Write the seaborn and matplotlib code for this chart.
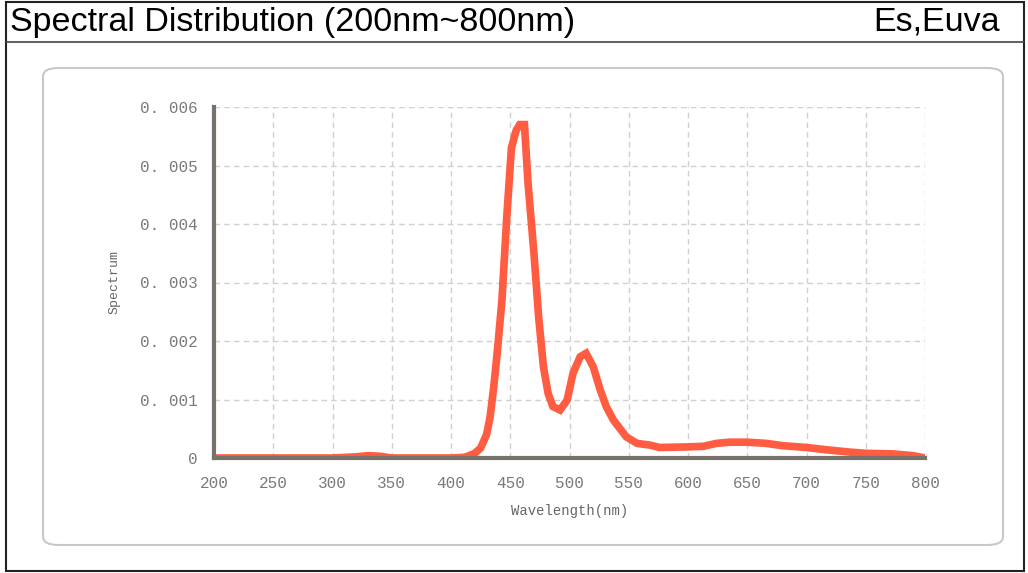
import numpy as np
import pandas as pd
import matplotlib
matplotlib.use("Agg")
import matplotlib.pyplot as plt
import seaborn as sns
from matplotlib.patches import FancyBboxPatch, Rectangle
from matplotlib.lines import Line2D
from matplotlib.ticker import MultipleLocator

# ---- data ----
wavelength = [200, 250, 300, 320, 330, 340, 350, 380, 400, 410, 413, 420, 425, 430, 433,
              436, 439, 443, 447, 451, 455, 458, 462, 465, 470, 474, 478, 482, 486,
              492, 498, 503, 509, 514, 520, 526, 531, 537, 548, 557, 568, 576, 600,
              613, 624, 635, 650, 666, 680, 700, 717, 737, 750, 773, 790, 800]
spectrum = [0.0, 0.0, 0.0, 0.00002, 0.00004, 0.00003, 0.0, 0.0, 0.0, 0.00001, 0.00002,
            0.00008, 0.00017, 0.0004, 0.0007, 0.0012, 0.0018, 0.0027, 0.0041, 0.0053,
            0.0056, 0.0057, 0.0057, 0.0047, 0.0035, 0.0024, 0.00156, 0.0011, 0.00088,
            0.00082, 0.00099, 0.00145, 0.00173, 0.00179, 0.00156, 0.00116, 0.00088,
            0.00065, 0.00036, 0.00025, 0.00022, 0.00018, 0.00019, 0.0002, 0.00025,
            0.00027, 0.00027, 0.00025, 0.00021, 0.00018, 0.00014, 0.0001, 0.00008,
            0.00007, 0.00004, 0.0]
x_ticks = [200, 250, 300, 350, 400, 450, 500, 550, 600, 650, 700, 750, 800]
y_ticks = [0, 0.001, 0.002, 0.003, 0.004, 0.005, 0.006]
y_tick_labels = ["0", "0. 001", "0. 002", "0. 003", "0. 004", "0. 005", "0. 006"]
title_left = "Spectral Distribution (200nm~800nm)"
title_right = "Es,Euva"
x_label = "Wavelength(nm)"
y_label = "Spectrum"

df = pd.DataFrame({"Wavelength": wavelength, "Spectrum": spectrum})

sns.set_style("white")
plt.rcParams["font.family"] = ["Liberation Sans", "DejaVu Sans"]

W, H = 1028, 573
fig = plt.figure(figsize=(W / 100, H / 100), dpi=100)

# outer frame and title separator
fig.patches.append(Rectangle((6 / W, 1 - 571 / H), 1018 / W, 569 / H, transform=fig.transFigure,
                             fill=False, edgecolor="#222222", linewidth=1.5))
fig.lines.append(Line2D([6 / W, 1024 / W], [1 - 42 / H, 1 - 42 / H], transform=fig.transFigure,
                        color="#444444", linewidth=1.2))
fig.text(10 / W, 1 - 22 / H, title_left, fontsize=24.5, va="center", ha="left", color="black")
fig.text(1000 / W, 1 - 22 / H, title_right, fontsize=24.5, va="center", ha="right", color="black")

# rounded panel
fig.patches.append(FancyBboxPatch((43 / W, 1 - 545 / H), 960 / W, 477 / H,
                                  boxstyle="round,pad=0,rounding_size=0.015",
                                  transform=fig.transFigure, fill=False,
                                  edgecolor="#c8c8c8", linewidth=1.5))

ax = fig.add_axes([214 / W, 1 - 458 / H, (925 - 214) / W, (458 - 107) / H])
sns.lineplot(data=df, x="Wavelength", y="Spectrum", ax=ax, color="#ff5c42",
             linewidth=5.5, solid_joinstyle="miter")

ax.set_xlim(200, 800)
ax.set_ylim(0, 0.006)
ax.set_xticks(x_ticks)
ax.set_xticklabels([str(v) for v in x_ticks])
ax.set_yticks(y_ticks)
ax.set_yticklabels(y_tick_labels)
ax.xaxis.set_minor_locator(MultipleLocator(25))
ax.yaxis.set_minor_locator(MultipleLocator(0.0005))

spine_c = "#77736a"
for s in ["top", "right"]:
    ax.spines[s].set_visible(False)
for s in ["left", "bottom"]:
    ax.spines[s].set_color(spine_c)
    ax.spines[s].set_linewidth(3)

ax.tick_params(axis="both", which="major", direction="out", length=10, width=2,
               color=spine_c, labelcolor="#7a7a7a")
ax.tick_params(axis="both", which="minor", direction="out", length=6, width=2, color=spine_c)
for lbl in ax.get_xticklabels() + ax.get_yticklabels():
    lbl.set_family(["Liberation Mono", "DejaVu Sans Mono"])
    lbl.set_fontsize(11.5)
ax.tick_params(axis="y", pad=2)
ax.tick_params(axis="x", pad=3)

ax.grid(True, which="major", linestyle=(0, (4, 3)), color="#d0d0d0", linewidth=1)
ax.set_axisbelow(True)

ax.set_xlabel(x_label, fontsize=10, color="#666666", family=["Liberation Mono", "DejaVu Sans Mono"], labelpad=9)
ax.set_ylabel(y_label, fontsize=9.5, color="#666666", family=["Liberation Mono", "DejaVu Sans Mono"], labelpad=14)

fig.savefig("out.png", dpi=100)
